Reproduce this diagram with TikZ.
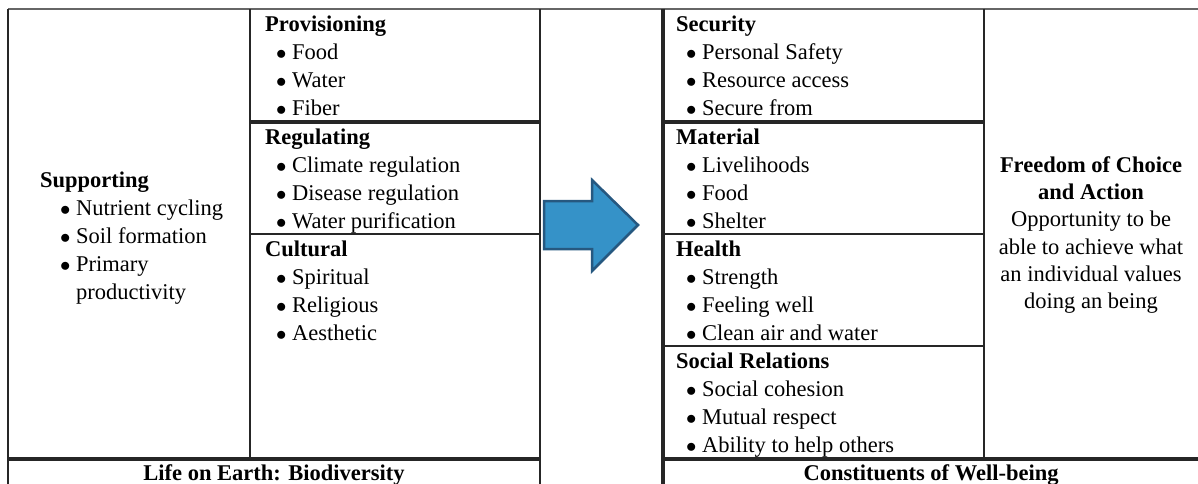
\documentclass[tikz,border=0pt]{standalone}
\usepackage{fontspec}
\setmainfont{Liberation Serif}

\definecolor{arrowfill}{RGB}{53,146,200}
\definecolor{arrowline}{RGB}{38,88,128}

\newcommand{\cellfont}{\fontsize{22.5}{28}\selectfont}
\newcommand{\dotitem}{$\bullet$\ }

\tikzset{
  rule/.style={line width=1.2pt, black!85},
  boldrule/.style={line width=3.5pt, black!85},
  head/.style={anchor=base west, inner sep=0pt, font=\cellfont\bfseries},
  item/.style={anchor=base west, inner sep=0pt, font=\cellfont},
  caption/.style={anchor=base, inner sep=0pt, font=\cellfont\bfseries},
}

\begin{document}
\begin{tikzpicture}[x=1pt,y=-1pt]
        \useasboundingbox (0,0) rectangle (1198,484);

        % table frames
        \draw[rule, black!60] (8,9) -- (1198,9);
        \draw[rule] (8,9) -- (8,484);
        \draw[rule] (540,9) -- (540,484);
        \draw[rule] (250,9) -- (250,459);
        \draw[boldrule] (250,122) -- (540,122);
        \draw[rule] (250,234) -- (540,234);
        \draw[boldrule] (8,459) -- (540,459);

        \draw[boldrule] (663,9) -- (663,484);
        \draw[rule] (984,9) -- (984,459);
        \draw[boldrule] (663,122) -- (984,122);
        \draw[rule] (663,234) -- (984,234);
        \draw[rule] (663,346) -- (984,346);
        \draw[boldrule] (663,459) -- (1198,459);

        % supporting services
        \node[head] (supp) at (40,187) {Supporting};
        \node[item] (supp-1) at (60,215) {\dotitem Nutrient cycling};
        \node[item] (supp-2) at (60,243) {\dotitem Soil formation};
        \node[item] (supp-3) at (60,271) {\dotitem Primary};
        \node[item] (supp-4) at (60,299) {\phantom{\dotitem}productivity};

        % provisioning, regulating, cultural
        \foreach \name/\title/\list [count=\k from 0] in
          {prov/Provisioning/{Food,Water,Fiber},
           regu/Regulating/{Climate regulation,Disease regulation,Water purification},
           cult/Cultural/{Spiritual,Religious,Aesthetic}} {
          \node[head] (\name) at (265,32+112*\k) {\title};
          \foreach \t [count=\i] in \list
            \node[item] (\name-\i) at (276,32+112*\k+28*\i) {\dotitem\t};
        }

        % constituents of well-being
        \foreach \name/\title/\list [count=\k from 0] in
          {secu/Security/{Personal Safety,Resource access,Secure from},
           mate/Material/{Livelihoods,Food,Shelter},
           heal/Health/{Strength,Feeling well,Clean air and water},
           soci/Social Relations/{Social cohesion,Mutual respect,Ability to help others}} {
          \node[head] (\name) at (676,32+112*\k) {\title};
          \foreach \t [count=\i] in \list
            \node[item] (\name-\i) at (686,32+112*\k+28*\i) {\dotitem\t};
        }

        \node[align=center, inner sep=0pt, font=\fontsize{22.5}{27.2}\selectfont] (free) at (1091,235)
          {\textbf{Freedom of Choice}\\\textbf{and Action}\\Opportunity to be\\able to achieve what\\an individual values\\doing an being};

        % column captions
        \node[caption] (life) at (274,480) {Life on Earth: Biodiversity};
        \node[caption] (wellb) at (931,480) {Constituents of Well-being};

        % block arrow
        \draw[line width=2.5pt, arrowline, fill=arrowfill, line join=miter]
          (544,201) -- (592,201) -- (592,180) -- (638,225) -- (592,271) -- (592,249) -- (544,249) -- cycle;
      \end{tikzpicture}
\end{document}
